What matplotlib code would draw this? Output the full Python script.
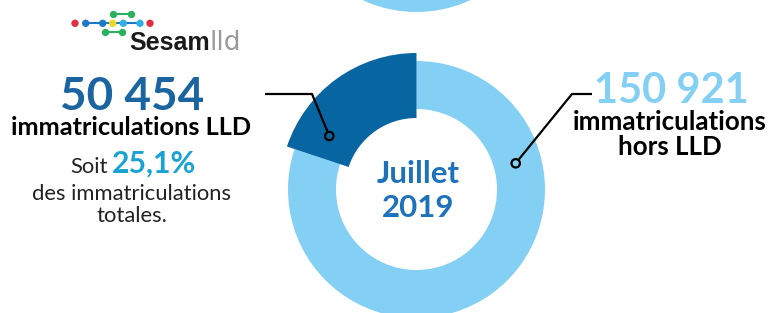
import matplotlib.pyplot as plt
from matplotlib.patches import Circle

# Data
categories = ["immatriculations LLD", "immatriculations\nhors LLD"]
registrations = [50454, 150921]
share_label = "25,1%"
period = "Juillet\n2019"
# share of the ring as it is drawn (the dark arc covers ~72 degrees)
drawn_share = [19.9, 80.1]

DARK = "#0766a2"
LIGHT = "#84d0f5"
NUM_DARK = "#1a64a0"
PCT = "#1ba2d4"
MONTH = "#1e72bb"
FONT = "Lato"

W, H = 772, 313


def Y(y):
    # image pixel row -> axis coordinate (y up)
    return H - y


def fmt(n):
    return f"{n:,}".replace(",", " ")


fig = plt.figure(figsize=(W / 100, H / 100), dpi=100)
ax = fig.add_axes([0, 0, 1, 1])

cx, cy = 416.5, Y(189.5)

# light ring (full ring under the dark arc)
ax.pie(drawn_share, radius=128.5, center=(cx, cy), startangle=90,
       colors=[LIGHT, LIGHT], wedgeprops=dict(width=48, linewidth=0))
# dark arc, thicker than the ring
ax.pie(drawn_share, radius=136.5, center=(cx, cy), startangle=90,
       colors=[DARK, "none"], wedgeprops=dict(width=65, linewidth=0))

# partial ring from the previous month at the top edge
ax.add_patch(Circle((416.5, Y(-116.5)), 128.5, color=LIGHT, lw=0))

# callout lines
ax.plot([265, 312, 327.6], [Y(94), Y(94), Y(131.8)], color="black", lw=1.6,
        solid_capstyle="butt")
ax.add_patch(Circle((329.3, Y(136)), 4.2, facecolor="none",
                    edgecolor="black", lw=1.6))
ax.plot([592, 572, 518.5], [Y(94), Y(94), Y(159.8)], color="black", lw=1.6,
        solid_capstyle="butt")
ax.add_patch(Circle((515.7, Y(163.3)), 4.2, facecolor="none",
                    edgecolor="black", lw=1.6))

# left block
ax.text(132, Y(110), fmt(registrations[0]), ha="center", va="baseline",
        fontsize=33, fontweight="bold", color=NUM_DARK, family=FONT)
ax.text(131, Y(135), categories[0], ha="center", va="baseline",
        fontsize=18.3, fontweight="bold", color="black", family=FONT)
ax.text(70, Y(173), "Soit", ha="left", va="baseline",
        fontsize=15.8, color="#222222", family=FONT)
ax.text(112, Y(173), share_label, ha="left", va="baseline",
        fontsize=21.8, fontweight="bold", color=PCT, family=FONT)
ax.text(132, Y(200), "des immatriculations", ha="center", va="baseline",
        fontsize=15.8, color="#222222", family=FONT)
ax.text(132, Y(222), "totales.", ha="center", va="baseline",
        fontsize=15.8, color="#222222", family=FONT)

# right block
ax.text(671, Y(103), fmt(registrations[1]), ha="center", va="baseline",
        fontsize=30, fontweight="bold", color=LIGHT, family=FONT)
for line, base in zip(categories[1].split("\n"), [130, 155]):
    ax.text(670, Y(base), line, ha="center", va="baseline",
            fontsize=18.6, fontweight="bold", color="black", family=FONT)

# centre label
for line, base in zip(period.split("\n"), [183, 217]):
    ax.text(418, Y(base), line, ha="center", va="baseline",
            fontsize=22.5, fontweight="bold", color=MONTH, family=FONT)

# logo
row_x = [75, 85.7, 102.7, 112.7, 123.3, 140, 150]
row_c = ["#e03040", "#1f78c8", "#1f78c8", "#f0d820", "#30b0e8", "#30b0e8", "#e03040"]
ax.plot(row_x[1:6], [Y(23.3)] * 5, color="#1f78c8", lw=1.5, zorder=3)
ax.plot([113.3, 130.7], [Y(14.3)] * 2, color="#2bb060", lw=1.5, zorder=3)
ax.plot([105, 121.7], [Y(32.3)] * 2, color="#2bb060", lw=1.5, zorder=3)
ax.scatter(row_x, [Y(23.3)] * 7, s=28, c=row_c, zorder=4, linewidths=0)
ax.scatter([113.3, 130.7, 105, 121.7], [Y(14.3), Y(14.3), Y(32.3), Y(32.3)],
           s=28, c="#2bb060", zorder=4, linewidths=0)
ax.text(129, Y(50), "Sesam", ha="left", va="baseline", fontsize=18,
        fontweight="bold", color="#1a1a1a", family="Liberation Sans")
ax.text(210, Y(50), "lld", ha="left", va="baseline", fontsize=19,
        color="#9a9a9a", family="DejaVu Sans")

ax.set_xlim(0, W)
ax.set_ylim(0, H)
ax.set_aspect("equal")
ax.axis("off")

fig.savefig("out.png", dpi=100)
